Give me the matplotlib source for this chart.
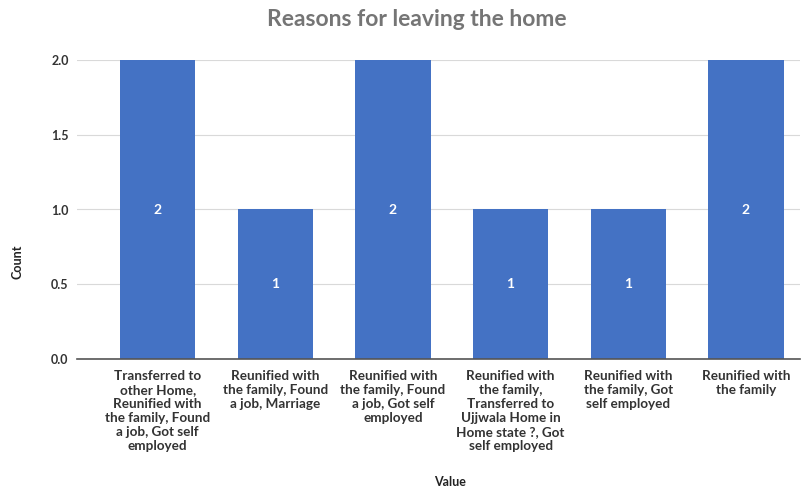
import matplotlib.pyplot as plt

# Datos del gráfico
categorias = [
    "Transferred to\nother Home,\nReunified with\nthe family, Found\na job, Got self\nemployed",
    "Reunified with\nthe family, Found\na job, Marriage",
    "Reunified with\nthe family, Found\na job, Got self\nemployed",
    "Reunified with\nthe family,\nTransferred to\nUjjwala Home in\nHome state ?, Got\nself employed",
    "Reunified with\nthe family, Got\nself employed",
    "Reunified with\nthe family",
]
conteos = [2, 1, 2, 1, 1, 2]
yticks = [0.0, 0.5, 1.0, 1.5, 2.0]

plt.rcParams['font.family'] = ['Lato', 'DejaVu Sans']

fig = plt.figure(figsize=(8.09, 4.90), dpi=100)
ax = fig.add_axes([77 / 809, 1 - 359 / 490, (800 - 77) / 809, (359 - 60) / 490])

x = range(len(categorias))
barras = ax.bar(x, conteos, width=0.64, color='#4472C4', zorder=3)

# Etiquetas de valor en el centro de cada barra
for xi, v in zip(x, conteos):
    ax.text(xi, v / 2, str(v), ha='center', va='center', color='white',
            fontsize=10, fontweight='bold', zorder=4)

ax.set_xlim(-0.685, 5.46)
ax.set_ylim(0, 2.0)
ax.set_yticks(yticks)
ax.set_yticklabels([f"{t:.1f}" for t in yticks], fontsize=9, fontweight='bold', color='#333333')
ax.set_xticks(list(x))
ax.set_xticklabels(categorias, fontsize=9.7, fontweight='bold', color='#333333', linespacing=1.2)
ax.tick_params(axis='both', length=0, pad=6)
ax.tick_params(axis='x', pad=8)

ax.grid(axis='y', color='#d9d9d9', linewidth=0.8, zorder=0)
for s in ['top', 'right', 'left']:
    ax.spines[s].set_visible(False)
ax.spines['bottom'].set_color('#555555')
ax.spines['bottom'].set_linewidth(1.2)
ax.spines['bottom'].set_zorder(5)

fig.text(450 / 809, 1 - 482 / 490, 'Value', ha='center', va='center',
         fontsize=9, fontweight='bold', color='#222222')
fig.text(18 / 809, 1 - 262 / 490, 'Count', ha='center', va='center', rotation=90,
         fontsize=9, fontweight='bold', color='#222222')
fig.text(417 / 809, 1 - 20 / 490, 'Reasons for leaving the home', ha='center', va='center',
         fontsize=16.5, fontweight='bold', color='#757575')

fig.savefig('out.png', dpi=100)
